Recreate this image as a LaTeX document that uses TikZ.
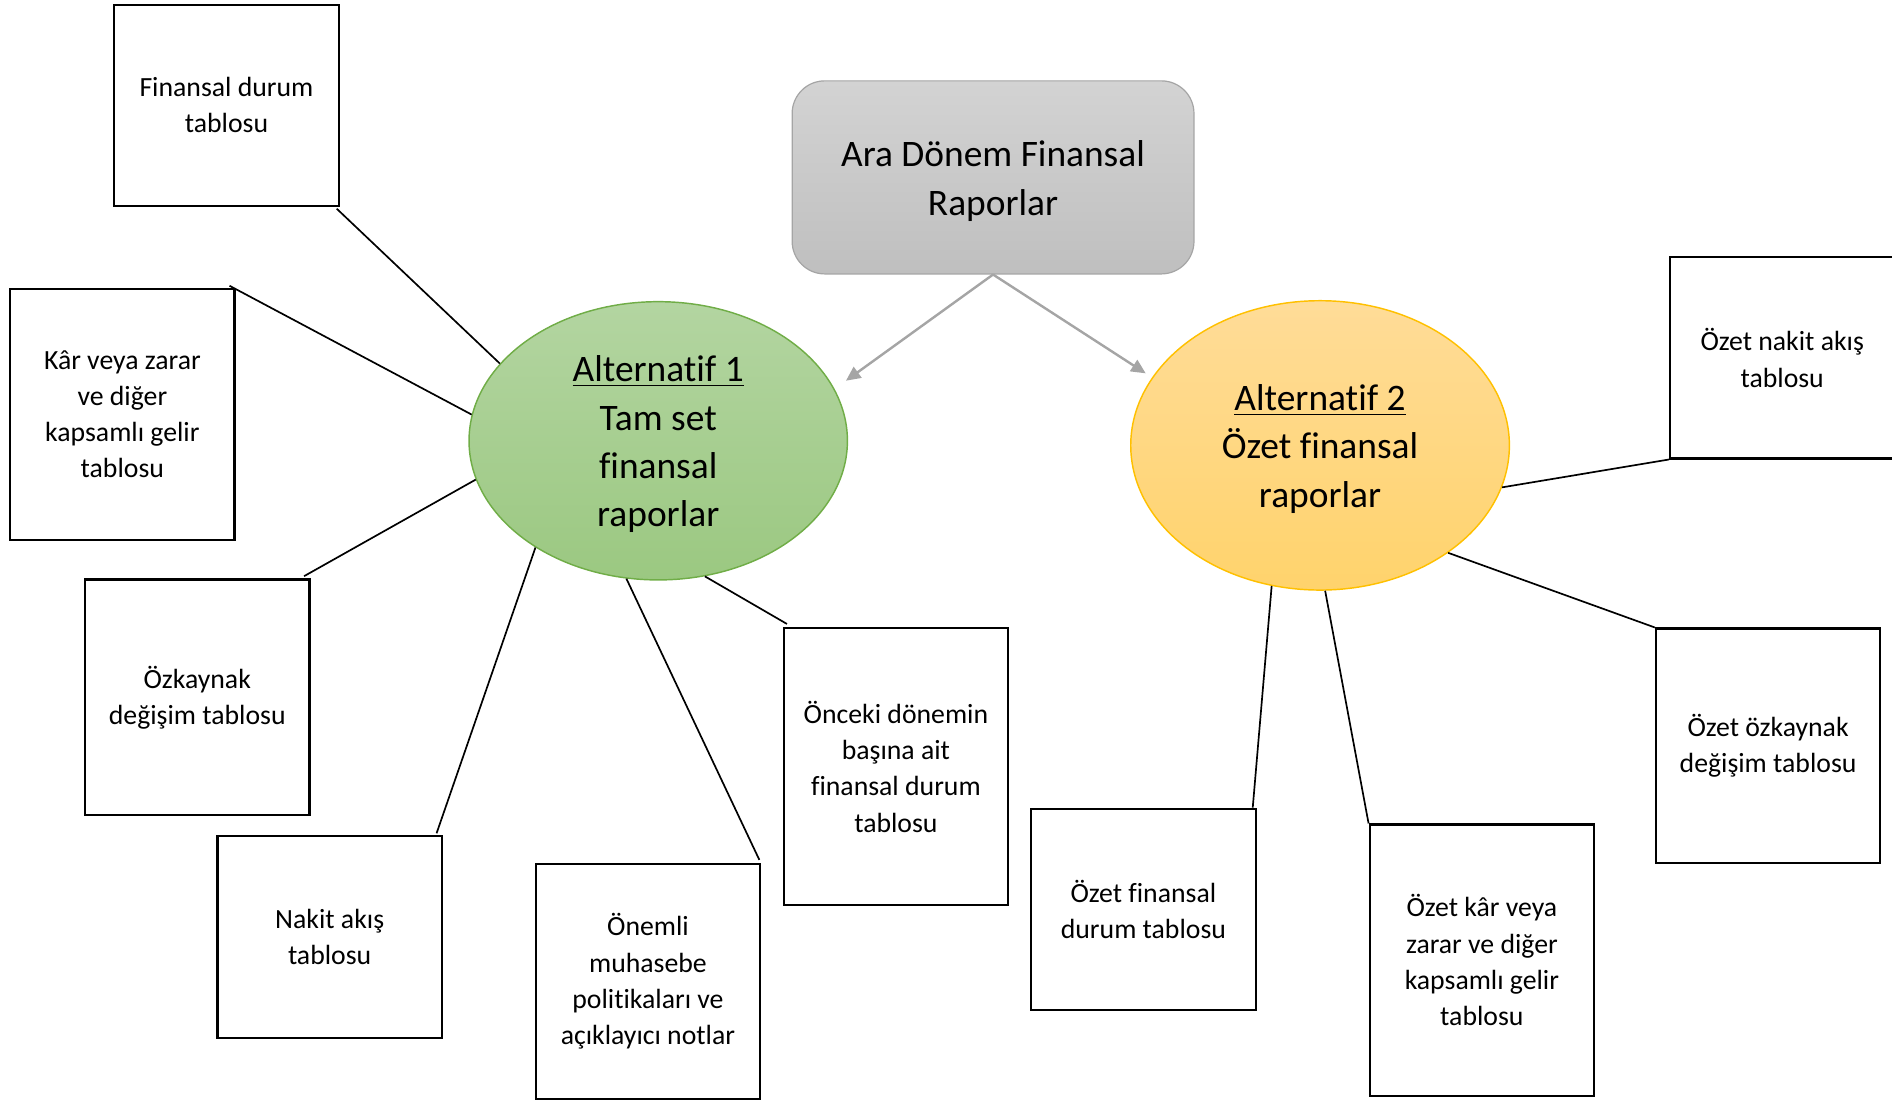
\documentclass[tikz,border=0pt]{standalone}
\usepackage{fontspec}
\setmainfont{Carlito}[Ligatures=NoCommon]
\usetikzlibrary{arrows.meta,shapes.geometric}
\definecolor{grayTop}{HTML}{D3D3D3}
\definecolor{grayBot}{HTML}{BFBFBF}
\definecolor{grayLine}{HTML}{A5A5A5}
\definecolor{greenTop}{HTML}{B3D5A1}
\definecolor{greenBot}{HTML}{9BC881}
\definecolor{greenLine}{HTML}{70AD47}
\definecolor{orangeTop}{HTML}{FFDC98}
\definecolor{orangeBot}{HTML}{FFD36C}
\definecolor{orangeLine}{HTML}{FFC000}
\begin{document}
\begin{tikzpicture}[x=0.5pt,y=-0.5pt,
  tbox/.style={draw=black, line width=0.9pt, fill=white, inner sep=2pt, align=center,
    font=\fontsize{11.5}{15}\selectfont, minimum width=93pt},
  cbox/.style={draw=grayLine, line width=0.5pt, rounded corners=13.5pt, top color=grayTop,
    bottom color=grayBot, minimum width=166.5pt, minimum height=80pt, inner sep=0pt},
  ell/.style={ellipse, line width=0.6pt, inner sep=0pt},
  bigtext/.style={align=center, inner sep=0pt, font=\fontsize{15.5}{20}\selectfont},
  conn/.style={draw=black, line width=0.7pt},
  garrow/.style={draw=grayLine, line width=1pt, -{Triangle[length=6pt,width=5.5pt]}}]
\useasboundingbox (0,0) rectangle (1568,912);

% central box
\node[cbox] (c) at (823,147) {};
\node[bigtext] (ct) at ([yshift=-1.5pt]c.center) {Ara Dönem Finansal\\Raporlar};

% ellipses
\node[ell, top color=greenTop, bottom color=greenBot, draw=greenLine,
  minimum width=156.8pt, minimum height=115.3pt] (e1) at (545.5,365.3) {};
\node[bigtext] (e1t) at ([yshift=-1.5pt]e1.center)
  {\underline{Alternatif 1}\\Tam set\\finansal\\raporlar};
\node[ell, top color=orangeTop, bottom color=orangeBot, draw=orangeLine,
  minimum width=156.9pt, minimum height=119.9pt] (e2) at (1094,369.1) {};
\node[bigtext] (e2t) at ([yshift=-1.5pt]e2.center)
  {\underline{Alternatif 2}\\Özet finansal\\raporlar};

% boxes
\node[tbox, minimum height=83.5pt] (b1) at (187.7,87.3) {Finansal durum\\tablosu};
\node[tbox, minimum height=104.2pt] (b2) at (101.4,343.4) {Kâr veya zarar\\ve diğer\\kapsamlı gelir\\tablosu};
\node[tbox, minimum height=97.7pt] (b3) at (163.5,578) {Özkaynak\\değişim tablosu};
\node[tbox, minimum height=83.8pt] (b4) at (273.2,776.7) {Nakit akış\\tablosu};
\node[tbox, minimum height=97.3pt] (b5) at (537,813.3) {Önemli\\muhasebe\\politikaları ve\\açıklayıcı notlar};
\node[tbox, minimum height=114.7pt] (b6) at (742.5,635.4) {Önceki dönemin\\başına ait\\finansal durum\\tablosu};
\node[tbox, minimum height=83.5pt] (b7) at (947.6,753.7) {Özet finansal\\durum tablosu};
\node[tbox, minimum height=112.5pt] (b8) at (1228.1,795.8) {Özet kâr veya\\zarar ve diğer\\kapsamlı gelir\\tablosu};
\node[tbox, minimum height=97.1pt] (b9) at (1465.3,618) {Özet özkaynak\\değişim tablosu};
\node[tbox, minimum height=83.3pt] (b10) at (1477,296.6) {Özet nakit akış\\tablosu};

% arrows
\coordinate (t1) at (701.1,315.5);
\coordinate (t2) at (949.5,309.4);
\draw[garrow] (c.south) -- (t1);
\draw[garrow] (c.south) -- (t2);

% connectors
\draw[conn] ([shift={(-1.3pt,-0.6pt)}]b1.south east) -- (e1.154.5);
\draw[conn] ([shift={(-2.55pt,0.75pt)}]b2.north east) -- (e1.172.5);
\draw[conn] ([shift={(-2.7pt,0.95pt)}]b3.north east) -- (e1.192.4);
\draw[conn] ([shift={(-2.65pt,0.7pt)}]b4.north east) -- (e1.221);
\draw[conn] ([shift={(-0.8pt,1.25pt)}]b5.north east) -- (e1.257.4);
\draw[conn] ([shift={(1.8pt,1.35pt)}]b6.north west) -- (e1.289.4);
\draw[conn] ([shift={(-1.65pt,0pt)}]b7.north east) -- (e2.251);
\draw[conn] (b8.north west) -- (e2.272.7);
\draw[conn] (b9.north west) -- (e2.320);
\draw[conn] (b10.south west) -- (e2.347.3);
\end{tikzpicture}
\end{document}
